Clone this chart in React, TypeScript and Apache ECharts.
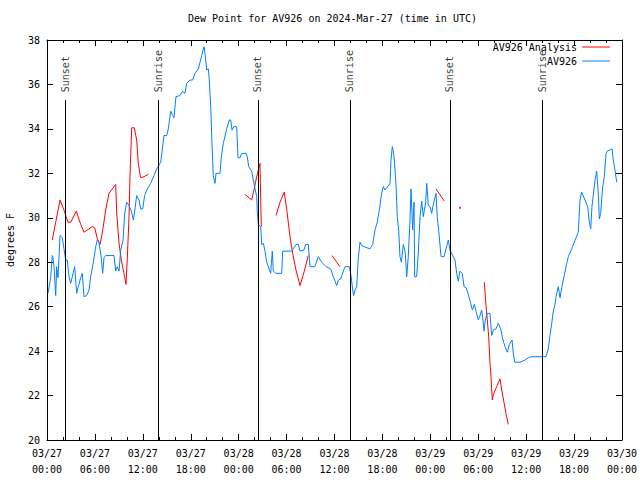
import { useEffect, useRef } from "react";
import * as echarts from "echarts";

// Time in hours since 03/27 00:00 UTC
const blueTimes = [
  0.13, 0.46, 0.66, 0.75, 0.88, 1.09, 1.21, 1.38, 1.63, 1.92, 2.13, 2.34, 2.54, 2.75, 2.97, 3.17, 3.47, 3.72, 3.92, 4.22,
  4.42, 4.63, 4.97, 5.26, 5.47, 5.8, 6.1, 6.3, 6.51, 6.8, 6.97, 7.14, 7.35, 8.39, 8.6, 8.8, 9.02, 9.23, 9.52, 9.73,
  9.98, 10.27, 10.56, 10.81, 10.98, 11.23, 11.52, 11.73, 11.98, 12.23, 12.56, 12.98, 13.4, 13.81, 14.24, 14.65, 14.99, 15.19, 15.49, 15.74,
  15.9, 16.15, 16.65, 16.99, 17.28, 17.49, 17.91, 18.24, 18.53, 18.95, 19.16, 19.37, 19.66, 19.78, 20.0, 20.2, 20.32, 20.5, 20.66, 20.82,
  21.04, 21.16, 21.66, 21.83, 22.08, 22.5, 22.83, 23.0, 23.17, 23.42, 23.75, 23.92, 24.17, 24.38, 24.92, 25.08, 25.26, 25.63, 25.83, 26.05,
  26.26, 26.33, 26.46, 26.76, 26.88, 27.09, 27.3, 27.51, 27.71, 28.01, 28.21, 28.34, 28.68, 29.39, 29.51, 30.64, 31.18, 31.47, 31.68, 32.18,
  32.39, 32.72, 32.93, 33.56, 33.97, 34.4, 34.94, 35.52, 35.85, 36.28, 36.48, 36.78, 37.1, 37.32, 37.85, 38.03, 38.28, 38.4, 38.57, 38.78,
  38.97, 39.19, 39.41, 39.69, 40.45, 40.78, 41.07, 41.36, 41.61, 41.91, 42.11, 42.32, 42.74, 42.95, 43.07, 43.24, 43.36, 43.49, 43.7, 43.86,
  44.04, 44.2, 44.37, 44.62, 44.87, 45.04, 45.24, 45.45, 45.58, 45.79, 45.96, 46.04, 46.29, 46.49, 46.71, 46.92, 47.12, 47.42, 47.55, 47.75,
  47.96, 48.17, 48.37, 48.58, 48.71, 48.87, 49.12, 49.34, 49.71, 49.96, 50.25, 50.46, 50.8, 51.09, 51.3, 51.5, 51.71, 52.0, 52.22, 52.47,
  52.75, 53.05, 53.26, 53.51, 53.72, 54.01, 54.22, 54.43, 54.56, 54.72, 54.88, 55.13, 55.47, 55.68, 55.89, 56.22, 56.51, 56.81, 57.06, 57.35,
  57.64, 57.89, 58.23, 58.39, 58.57, 59.23, 59.86, 60.27, 60.69, 62.48, 62.77, 62.98, 63.2, 63.4, 63.61, 63.74, 64.02, 64.24, 64.45, 64.74,
  65.08, 65.28, 65.7, 66.24, 66.53, 66.74, 66.95, 67.37, 67.71, 67.91, 68.08, 68.24, 68.62, 68.83, 69.03, 69.16, 69.33, 69.58, 69.79, 70.0,
  70.16, 70.5, 70.75, 70.91, 71.12, 71.34,
];
const blueValues = [
  26.6, 27.3, 28.3, 28.2, 27.8, 26.5, 27.8, 27.3, 29.2, 29.1, 28.6, 28.1, 28.1, 27.35, 27.05, 27.35, 27.8, 26.6, 26.9, 27.3,
  27.5, 26.45, 26.5, 26.75, 27.35, 28.0, 28.7, 29.0, 28.9, 28.2, 27.5, 28.2, 28.3, 28.3, 27.6, 27.8, 27.6, 28.55, 29.0, 30.2,
  30.7, 30.55, 30.3, 29.9, 30.3, 31.0, 30.8, 30.4, 30.4, 31.0, 31.3, 31.55, 31.9, 32.25, 32.5, 33.7, 33.7, 34.0, 34.8, 34.6,
  34.5, 35.45, 35.5, 35.7, 35.6, 36.05, 36.2, 36.2, 36.5, 36.7, 37.0, 37.3, 37.7, 37.4, 36.65, 36.7, 36.2, 35.0, 33.35, 31.9,
  31.55, 32.0, 32.0, 32.75, 33.35, 34.0, 34.4, 34.4, 33.95, 34.1, 34.1, 32.7, 32.7, 32.9, 32.9, 32.75, 32.3, 32.1, 31.7, 31.3,
  30.95, 30.3, 29.7, 29.6, 28.8, 28.85, 28.5, 28.0, 27.8, 27.5, 28.5, 27.6, 27.5, 27.5, 28.5, 28.5, 28.8, 28.8, 28.5, 28.55,
  28.8, 28.8, 27.8, 27.8, 28.25, 28.0, 27.8, 27.7, 27.35, 26.95, 27.2, 27.25, 27.6, 27.8, 27.8, 27.5, 26.75, 26.5, 26.75, 26.9,
  28.15, 28.9, 28.75, 28.7, 28.6, 28.8, 29.45, 29.8, 30.35, 31.1, 31.4, 31.25, 31.45, 31.5, 32.6, 33.2, 33.0, 32.6, 31.5, 30.05,
  29.45, 28.25, 28.0, 28.8, 28.4, 27.35, 28.25, 29.9, 31.3, 29.45, 30.7, 27.35, 27.35, 28.4, 30.05, 30.75, 30.05, 30.7, 31.55, 30.55,
  30.5, 30.2, 30.6, 30.9, 31.1, 30.05, 29.15, 28.25, 28.25, 28.6, 29.0, 28.55, 28.3, 28.1, 27.5, 27.15, 27.6, 27.5, 26.9, 26.85,
  26.55, 26.15, 25.85, 26.1, 25.8, 25.4, 25.6, 25.85, 25.5, 24.9, 25.4, 25.7, 25.7, 24.7, 24.95, 25.0, 25.25, 25.0, 24.55, 24.2,
  23.95, 24.3, 24.5, 23.9, 23.5, 23.5, 23.6, 23.7, 23.75, 23.75, 24.1, 24.7, 25.25, 25.8, 26.1, 26.45, 26.9, 26.4, 26.85, 27.35,
  27.95, 28.25, 28.6, 29.1, 29.35, 30.8, 31.15, 30.8, 30.5, 29.8, 29.5, 30.5, 31.7, 32.1, 31.1, 29.95, 30.2, 31.4, 31.85, 32.9,
  33.0, 33.05, 33.1, 32.6, 32.15, 31.6,
];

// Analysis series; null marks a gap between segments
const redTimes = [
  0.66, 1.09, 1.63, 2.13, 2.63, 2.97, 3.67, 4.22, 4.63, 5.67, 5.97, 6.3, 6.64, 6.92, 7.35, 7.76, 8.18, 8.6, 8.73, 9.02,
  9.3, 9.64, 9.89, 10.06, 10.27, 10.39, 10.61, 10.93, 11.23, 11.43, 11.73, 12.15, 12.68,
  18.0,
  24.79, 25.63, 25.92, 26.17, 26.46, 26.67, 26.76, 26.83,
  27.8,
  28.68, 29.18, 29.71, 30.01, 30.43, 30.76, 31.18, 31.68, 32.18, 32.72,
  34.0,
  35.69, 36.69,
  42.0,
  48.71, 49.75,
  52.0,
  54.76, 54.97, 55.13, 55.31, 55.47, 55.6, 55.76, 55.89, 56.31, 56.72, 56.94, 57.22, 57.47, 57.76,
];
const redValues = [
  29.0, 29.8, 30.8, 30.35, 29.8, 29.8, 30.3, 29.7, 29.35, 29.6, 29.55, 29.05, 28.8, 29.3, 30.35, 31.1, 31.3, 31.5, 30.2, 28.85,
  28.1, 27.5, 27.0, 28.2, 30.05, 31.85, 34.05, 34.05, 33.5, 32.45, 31.8, 31.85, 31.95,
  null,
  31.05, 30.8, 31.25, 31.7, 32.15, 32.45, 30.8, 29.6,
  null,
  30.1, 30.7, 31.15, 30.4, 29.15, 28.4, 27.65, 26.95, 27.55, 28.3,
  null,
  28.3, 27.8,
  null,
  31.3, 30.75,
  null,
  27.1, 26.05, 25.4, 24.65, 23.45, 22.85, 21.8, 22.05, 22.4, 22.75, 22.25, 21.7, 21.2, 20.7,
];
const redDotTimes = [51.71];
const redDotValues = [30.45];

const sunNames = ["Sunset", "Sunrise", "Sunset", "Sunrise", "Sunset", "Sunrise"];
const sunTimes = [2.3, 13.97, 26.41, 37.92, 50.45, 62.02];
const sunLineTop = 35.3;
const sunLabelBase = 35.65;

const MONO = "'DejaVu Sans Mono', 'Liberation Mono', monospace";

export default function App() {
  const ref = useRef<HTMLDivElement>(null);
  useEffect(() => {
    if (!ref.current) return;
    const chart = echarts.init(ref.current, undefined, { renderer: "svg" });
    const pad = (n: number) => (n < 10 ? "0" + n : "" + n);
    const xFmt = (v: number) => {
      const day = 27 + Math.floor(v / 24);
      const hh = v % 24;
      return "03/" + pad(day) + "\n" + pad(hh) + ":00";
    };
    const xCommon = {
      type: "value" as const,
      min: 0,
      max: 72,
      interval: 6,
      splitLine: { show: false },
      axisLine: { show: true, onZero: false, lineStyle: { color: "#000", width: 1 } },
      axisTick: { show: true, inside: true, length: 6, lineStyle: { color: "#000" } },
      minorTick: { show: true, splitNumber: 3, length: 3, lineStyle: { color: "#000" } },
    };
    const yCommon = {
      type: "value" as const,
      min: 20,
      max: 38,
      interval: 2,
      splitLine: { show: false },
      axisLine: { show: true, onZero: false, lineStyle: { color: "#000", width: 1 } },
      axisTick: { show: true, inside: true, length: 6, lineStyle: { color: "#000" } },
    };
    const legendText = { fontFamily: MONO, fontSize: 10, color: "#000" };
    chart.setOption({
      animation: false,
      backgroundColor: "#fff",
      title: {
        text: "Dew Point for AV926 on 2024-Mar-27 (time in UTC)",
        left: 188,
        top: 13,
        padding: 0,
        textStyle: { fontFamily: MONO, fontSize: 10, fontWeight: "normal", color: "#000" },
      },
      legend: [
        {
          data: ["AV926 Analysis"],
          right: 30,
          top: 42,
          padding: 0,
          align: "right",
          icon: "rect",
          itemWidth: 28,
          itemHeight: 1,
          itemGap: 0,
          textStyle: legendText,
        },
        {
          data: ["AV926"],
          right: 30,
          top: 56,
          padding: 0,
          align: "right",
          icon: "rect",
          itemWidth: 28,
          itemHeight: 1,
          itemGap: 0,
          textStyle: legendText,
        },
      ],
      grid: { left: 47, top: 40, width: 575, height: 400, containLabel: false, outerBoundsMode: "none" },
      xAxis: [
        {
          ...xCommon,
          position: "bottom",
          axisLabel: {
            formatter: xFmt,
            fontFamily: MONO,
            fontSize: 10,
            color: "#000",
            lineHeight: 16,
            margin: 5,
          },
        },
        { ...xCommon, position: "top", axisLabel: { show: false } },
      ],
      yAxis: [
        {
          ...yCommon,
          position: "left",
          name: "degrees F",
          nameLocation: "middle",
          nameGap: 32,
          nameRotate: 90,
          nameTextStyle: { fontFamily: MONO, fontSize: 10, color: "#000" },
          axisLabel: { fontFamily: MONO, fontSize: 10, color: "#000", margin: 7 },
        },
        { ...yCommon, position: "right", axisLabel: { show: false } },
      ],
      series: [
        {
          name: "AV926 Analysis",
          type: "line",
          data: redTimes.map((t, i) => [t, redValues[i]]),
          showSymbol: false,
          connectNulls: false,
          color: "#ff0000",
          lineStyle: { color: "#ff0000", width: 1 },
        },
        {
          name: "AV926",
          type: "line",
          data: blueTimes.map((t, i) => [t, blueValues[i]]),
          showSymbol: false,
          color: "#0080ff",
          lineStyle: { color: "#0080ff", width: 1 },
        },
        {
          type: "scatter",
          data: redDotTimes.map((t, i) => [t, redDotValues[i]]),
          symbol: "rect",
          symbolSize: 2,
          itemStyle: { color: "#ff0000" },
          silent: true,
        },
        {
          type: "scatter",
          data: sunTimes.map((t, i) => ({ value: [t, sunLabelBase], name: sunNames[i] })),
          symbolSize: 0,
          silent: true,
          label: {
            show: true,
            formatter: "{b}",
            position: "inside",
            rotate: 90,
            align: "left",
            verticalAlign: "middle",
            fontFamily: MONO,
            fontSize: 10,
            color: "#000",
          },
          markLine: {
            silent: true,
            symbol: ["none", "none"],
            label: { show: false },
            lineStyle: { color: "#000", width: 1, type: "solid" },
            data: sunTimes.map((t) => [{ coord: [t, 20] }, { coord: [t, sunLineTop] }]),
          },
        },
      ],
    });
    return () => chart.dispose();
  }, []);
  return (
    <div
      ref={ref}
      style={{ position: "fixed", left: 0, top: 0, width: 640, height: 480, background: "#fff" }}
    />
  );
}
